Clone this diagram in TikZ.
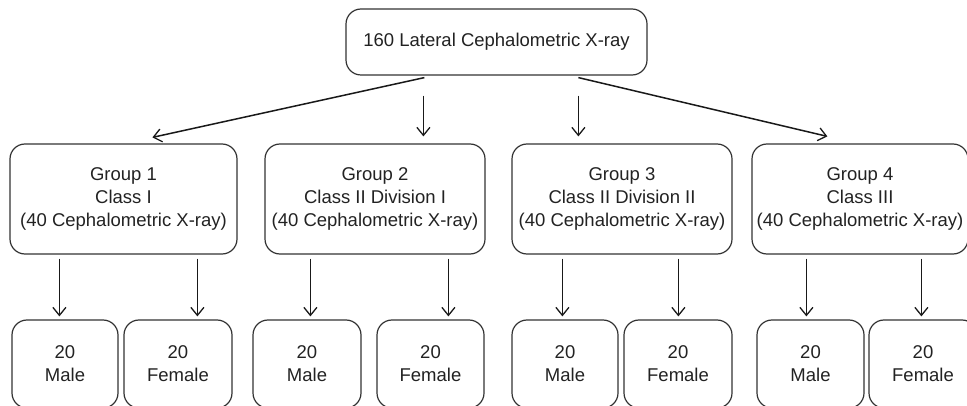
\documentclass[tikz,border=0pt]{standalone}
\usepackage{fontspec}
\setmainfont{Liberation Sans}
\usetikzlibrary{arrows.meta,calc}
\definecolor{boxline}{HTML}{333333}
\definecolor{txt}{HTML}{222222}
\tikzset{
  box/.style={draw=boxline, line width=1.2pt, rounded corners=15pt, align=center,
    text=txt, font=\fontsize{18.5}{23}\selectfont, inner sep=0pt},
  arr/.style={draw=black!90, line width=1.5pt, -{Straight Barb[length=8pt,width=13pt,line width=1.3pt]}}
}
\begin{document}
\begin{tikzpicture}[x=1pt,y=-1pt]
\useasboundingbox (0,0) rectangle (967,406);
\clip (0,0) rectangle (967,406);
\node[box, minimum width=301pt, minimum height=66pt] (top) at (496.5,42) {160 Lateral Cephalometric X-ray};
\node[box, minimum width=227pt, minimum height=110pt] (g1) at (123.5,199) {Group 1\\Class I\\(40 Cephalometric X-ray)};
\node[box, minimum width=220pt, minimum height=110pt] (g2) at (375,199) {Group 2\\Class II Division I\\(40 Cephalometric X-ray)};
\node[box, minimum width=220pt, minimum height=110pt] (g3) at (622,199) {Group 3\\Class II Division II\\(40 Cephalometric X-ray)};
\node[box, minimum width=216pt, minimum height=110pt] (g4) at (860,199) {Group 4\\Class III\\(40 Cephalometric X-ray)};
\node[box, minimum width=106pt, minimum height=88pt] (m1) at (65,364) {20\\Male};
\node[box, minimum width=108pt, minimum height=88pt] (f1) at (178,364) {20\\Female};
\node[box, minimum width=108pt, minimum height=88pt] (m2) at (307,364) {20\\Male};
\node[box, minimum width=107pt, minimum height=88pt] (f2) at (430.5,364) {20\\Female};
\node[box, minimum width=106pt, minimum height=88pt] (m3) at (565,364) {20\\Male};
\node[box, minimum width=108pt, minimum height=88pt] (f3) at (678,364) {20\\Female};
\node[box, minimum width=107pt, minimum height=88pt] (m4) at (810.5,364) {20\\Male};
\node[box, minimum width=108pt, minimum height=88pt] (f4) at (923,364) {20\\Female};
% top to groups
\draw[arr] ($(top.south west)+(79,2)$) -- ($(g1.north west)+(143,-6)$);
\draw[arr] ($(top.south west)+(78,20)$) -- ($(g2.north west)+(159,-7)$);
\draw[arr] ($(top.south west)+(233,20)$) -- ($(g3.north west)+(67,-7)$);
\draw[arr] ($(top.south west)+(233,2)$) -- ($(g4.north west)+(76,-7)$);
% groups to sexes
\draw[arr] ($(g1.south west)+(50,4)$) -- ($(m1.north west)+(48,-3)$);
\draw[arr] ($(g1.south west)+(188,4)$) -- ($(f1.north west)+(74,-3)$);
\draw[arr] ($(g2.south west)+(46,4)$) -- ($(m2.north west)+(58,-3)$);
\draw[arr] ($(g2.south west)+(184,4)$) -- ($(f2.north west)+(72,-3)$);
\draw[arr] ($(g3.south west)+(51,4)$) -- ($(m3.north west)+(51,-3)$);
\draw[arr] ($(g3.south west)+(167,4)$) -- ($(f3.north west)+(55,-3)$);
\draw[arr] ($(g4.south west)+(55,4)$) -- ($(m4.north west)+(50,-3)$);
\draw[arr] ($(g4.south west)+(170,4)$) -- ($(f4.north west)+(53,-3)$);
\end{tikzpicture}
\end{document}
